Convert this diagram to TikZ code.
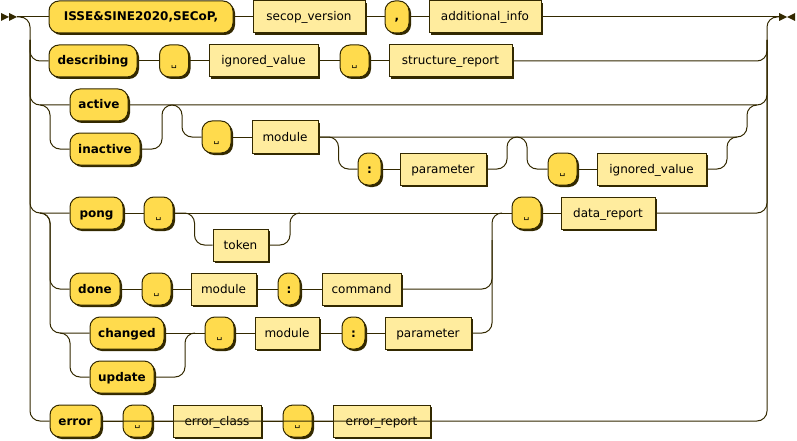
\documentclass[tikz,border=0pt]{standalone}
\usepackage{fontspec}
\setmainfont{DejaVu Sans}
\usetikzlibrary{shadows}
\definecolor{linec}{HTML}{332900}
\definecolor{termc}{HTML}{FFDB4D}
\definecolor{ntc}{HTML}{FFEC9E}
\tikzset{
  box/.style={draw=linec, line width=1pt, minimum height=32pt, inner sep=0pt, text=black,
    font=\fontsize{12}{14}\selectfont, text height=10pt, text depth=2pt,
    drop shadow={shadow xshift=2pt, shadow yshift=-2pt, opacity=1, fill=linec}},
  term/.style={box, fill=termc, rounded corners=10pt, font=\fontsize{12}{14}\selectfont\bfseries},
  nterm/.style={box, fill=ntc},
  spterm/.style={term, minimum width=29pt, font=\fontsize{9}{10}\selectfont, text height=11pt, text depth=0pt},
  wire/.style={draw=linec, line width=1pt, rounded corners=10pt},
}
\begin{document}
\begin{tikzpicture}[x=1pt,y=-1pt]
\fill[white] (0,0) rectangle (797,441);
\useasboundingbox (0,0) rectangle (797,441);
% start / end marks
\fill[linec] (1,13) -- (9,17) -- (1,21) -- cycle;
\fill[linec] (9,13) -- (17,17) -- (9,21) -- cycle;
\fill[linec] (779,13) -- (787,17) -- (779,21) -- cycle;
\fill[linec] (795,13) -- (787,17) -- (795,21) -- cycle;
\coordinate (start) at (17,17);
\coordinate (end) at (779,17);
\coordinate (lb) at (30,40);
\coordinate (lbb) at (30,421);
\coordinate (rb) at (767,40);
\coordinate (rbb) at (767,17);
\coordinate (ai) at (40,105);
\coordinate (ia) at (172,105);
\coordinate (ma) at (517,137);
\coordinate (pd) at (40,213);
\coordinate (cu) at (60,333);
\coordinate (mj) at (492,240);
% row 1
\node[term, minimum width=184pt] (isse) at (141,17) {ISSE\&SINE2020,SECoP,};
\node[nterm, minimum width=112pt] (secop) at (309,17) {secop\_version};
\node[term, minimum width=24pt] (comma) at (397,17) {,};
\node[nterm, minimum width=112pt] (addinfo) at (485,17) {additional\_info};
% row 2
\node[term, minimum width=88pt] (desc) at (93,61) {describing};
\node[spterm] (spa) at (174,61) {␣};
\node[nterm, minimum width=109pt] (iva) at (263.5,61) {ignored\_value};
\node[spterm] (spb) at (354.5,61) {␣};
\node[nterm, minimum width=123pt] (sr) at (450.5,61) {structure\_report};
% row 3
\node[term, minimum width=58pt] (active) at (99,105) {active};
\node[term, minimum width=70pt] (inactive) at (105,149) {inactive};
\node[spterm] (spc) at (216.5,137) {␣};
\node[nterm, minimum width=66pt] (moda) at (285,137) {module};
\node[term, minimum width=23pt] (cola) at (369.5,169) {:};
\node[nterm, minimum width=86pt] (para) at (443,169) {parameter};
\node[spterm] (spd) at (562.5,169) {␣};
\node[nterm, minimum width=109pt] (ivb) at (651.5,169) {ignored\_value};
% pong
\node[term, minimum width=53pt] (pong) at (96.5,213) {pong};
\node[spterm] (spe) at (158.5,213) {␣};
\node[nterm, minimum width=55pt] (token) at (240.5,245) {token};
\node[spterm] (spf) at (526.5,213) {␣};
\node[nterm, minimum width=94pt] (dr) at (608,213) {data\_report};
% done
\node[term, minimum width=50pt] (done) at (95,289) {done};
\node[spterm] (spg) at (156.5,289) {␣};
\node[nterm, minimum width=65pt] (modb) at (223.5,289) {module};
\node[term, minimum width=22pt] (colb) at (289,289) {:};
\node[nterm, minimum width=79pt] (cmd) at (361.5,289) {command};
% changed / update
\node[term, minimum width=74pt] (changed) at (127,333) {changed};
\node[term, minimum width=64pt] (update) at (122,377) {update};
\node[spterm] (sph) at (219.5,333) {␣};
\node[nterm, minimum width=64pt] (modc) at (287,333) {module};
\node[term, minimum width=23pt] (colc) at (353.5,333) {:};
\node[nterm, minimum width=86pt] (parc) at (428,333) {parameter};
% error
\node[term, minimum width=51pt] (err) at (75.5,421) {error};
\node[spterm] (spi) at (137.5,421) {␣};
\node[nterm, minimum width=88pt] (ec) at (217,421) {error\_class};
\node[spterm] (spj) at (297.5,421) {␣};
\node[nterm, minimum width=97pt] (er) at (381.5,421) {error\_report};
% wires: main buses
\draw[wire] (start) -- (isse.west);
\draw[wire] (start) -| (lbb) -- (err.west);
\draw[wire] (isse) -- (secop) -- (comma) -- (addinfo);
\draw[wire] (addinfo.east) -- (end);
\draw[wire] (err.east) -| (rbb) -- (end);
% row 2
\draw[wire] (lb) |- (desc.west);
\draw[wire] (desc) -- (spa) -- (iva) -- (spb) -- (sr);
\draw[wire] (sr.east) -| (rb);
% row 3
\draw[wire] (lb) |- (active.west);
\draw[wire] (active.east) -| (rb);
\draw[wire] (ai) -- ++(10,0) |- (inactive.west);
\draw[wire] (inactive.east) -| (162,105) -- (ia);
\draw[wire] (ia) -- ++(10,0) |- (spc.west);
\draw[wire] (spc) -- (moda);
\draw[wire] (moda.east) -| (747,105) -- (757,105);
\draw[wire] (moda.east) -- ++(20,0) |- (cola.west);
\draw[wire] (cola) -- (para);
\draw[wire] (para.east) -| (507,137) -- (ma);
\draw[wire] (ma) -- ++(10,0) |- (spd.west);
\draw[wire] (spd) -- (ivb);
\draw[wire] (ivb.east) -| (727,137) -- (737,137);
% pong
\draw[wire] (lb) |- (pong.west);
\draw[wire] (pong) -- (spe);
\draw[wire] (spe.east) -- (spf.west);
\draw[wire] (spe.east) -- ++(21,0) |- (token.west);
\draw[wire] (token.east) -| (290,213) -- (300,213);
\draw[wire] (spf) -- (dr);
\draw[wire] (dr.east) -| (rb);
% done
\draw[wire] (pd) -- ++(10,0) |- (done.west);
\draw[wire] (done) -- (spg) -- (modb) -- (colb) -- (cmd);
\draw[wire] (cmd.east) -| (492,213) -- (502,213);
% changed / update
\draw[wire] (pd) -- ++(10,0) |- (changed.west);
\draw[wire] (cu) -- ++(10,0) |- (update.west);
\draw[wire] (update.east) -| (185,333) -- (195,333);
\draw[wire] (changed) -- (sph) -- (modc) -- (colc) -- (parc);
\draw[wire] (parc.east) -| (mj);
% error
\draw[wire] (err) -- (spi) -- (ec) -- (spj) -- (er);
\end{tikzpicture}
\end{document}
